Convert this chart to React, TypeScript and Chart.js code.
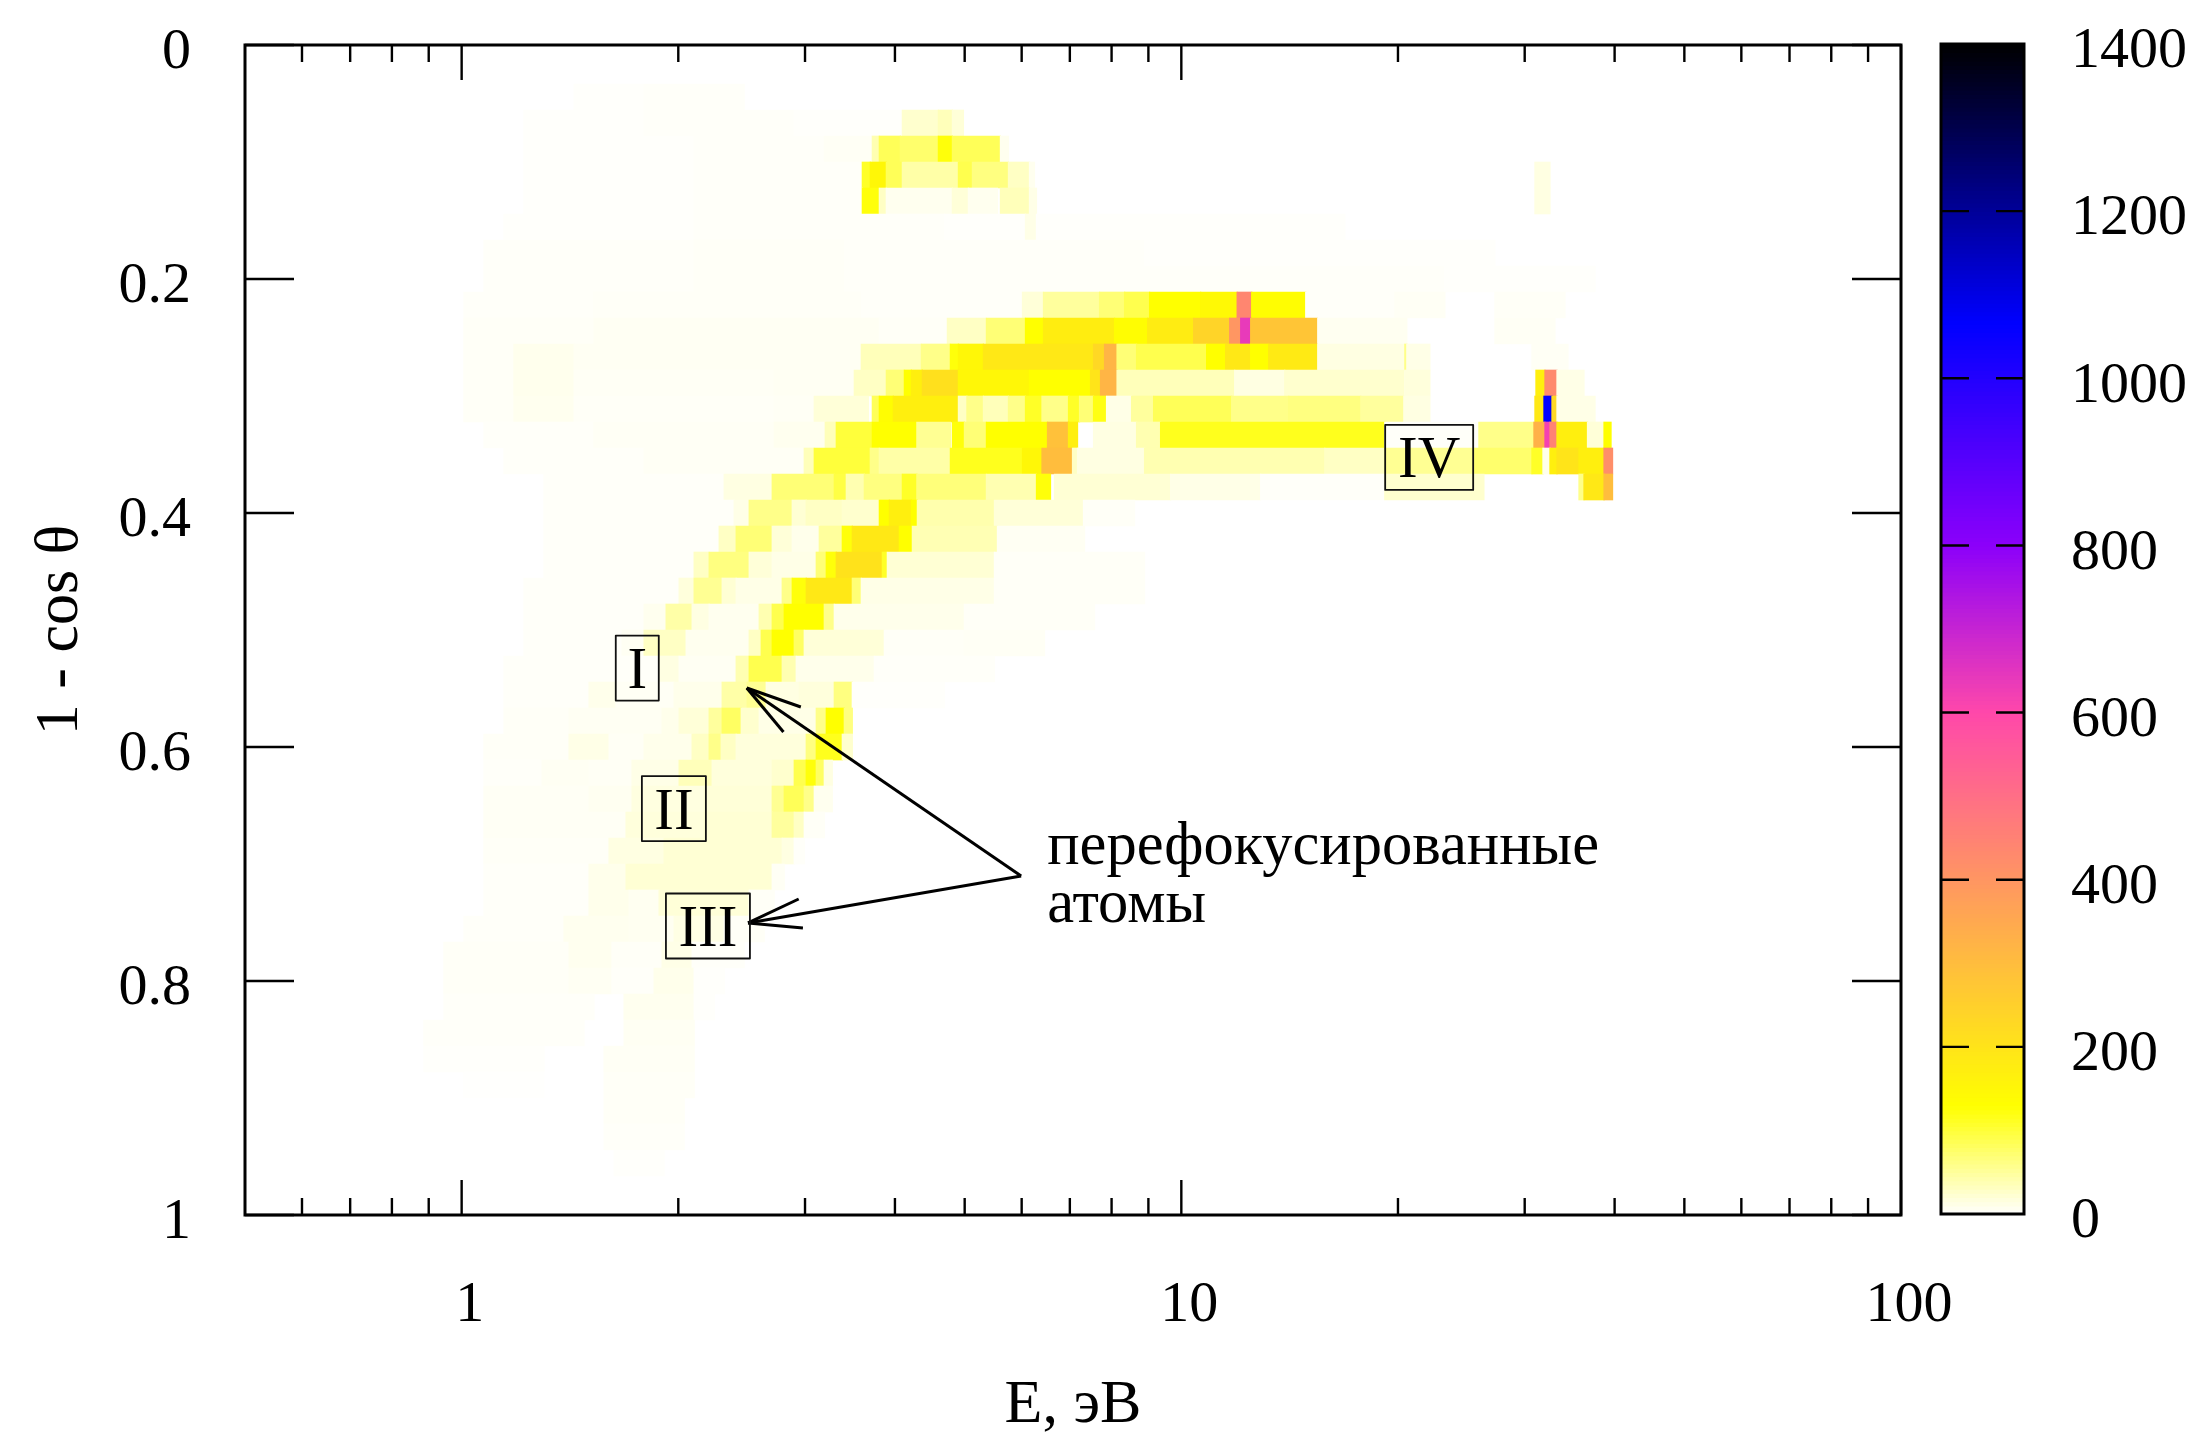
import React, { useEffect, useRef } from "react";
import { Chart, registerables } from "chart.js";
Chart.register(...registerables);

// Energy axis values
const xMajorTicks = [1, 10, 100];
const xMinorTicks = [0.6, 0.7, 0.8, 0.9, 2, 3, 4, 5, 6, 7, 8, 9, 20, 30, 40, 50, 60, 70, 80, 90];
const yTicks = [0, 0.2, 0.4, 0.6, 0.8, 1];
const colorTicks = [0, 200, 400, 600, 800, 1000, 1200, 1400];

// Colour map: [value, r, g, b]
const paletteStops = [
  [0, 255, 255, 255], [130, 255, 255, 0], [600, 255, 72, 170], [800, 140, 0, 250],
  [1066, 0, 0, 255], [1400, 0, 0, 0],
];

// Each row is one 1-cos(theta) bin (k/45); each run is [first energy bin, last energy bin, counts].
const heatRows: number[][][] = [
  [],
  [],
  [[33,40,2],[40,50,3]],
  [[28,40,2],[40,55,3],[55,66,2],[65.8,69.4,25],[69.4,70.8,35],[70.8,71.9,20]],
  [[28,45,2],[45,58,3],[58,62.8,5],[62.8,63.5,40],[63.5,65.6,85],[65.6,69.4,75],[69.4,70.8,125],[70.8,75.6,85],[75.6,76.4,8]],
  [[28,45,2],[45,61.8,3],[61.8,62.6,110],[62.6,64.2,150],[64.2,65.8,85],[65.8,71.4,45],[71.4,72.8,90],[72.8,76.4,65],[76.4,78.5,30],[78.5,79,8],[129,130.5,15]],
  [[28,45,2],[45,61.8,3],[61.8,63.5,125],[63.5,64.2,30],[64.2,70.8,8],[70.8,72.4,20],[72.4,75.3,8],[75.6,78.5,35],[78.5,79.2,12],[129,130.5,15]],
  [[26,45,2],[45,70,3],[70,78.1,2],[78.1,79.2,12],[79.2,110,2]],
  [[24,45,3],[45,60,4],[60,90,3],[90,125,2]],
  [[24,45,3],[45,60,4],[60,90,3],[90,120,3],[120,135,2]],
  [[22,35,3],[35,61.7,4],[61.7,77.8,3],[77.8,79.9,20],[79.9,85.5,50],[85.5,88,70],[88,90.5,90],[90.5,95.6,130],[95.6,99.25,145],[99.25,100.7,440],[100.7,106.1,135],[106.1,115,3],[115,120,5],[125,132,4]],
  [[22,35,4],[35,63.5,6],[63.5,70.3,4],[70.3,74.2,30],[74.2,78.1,70],[78.1,79.9,130],[79.9,87,175],[87,90.3,135],[90.3,94.9,180],[94.9,98.5,240],[98.5,99.6,400],[99.6,100.6,640],[100.6,107.25,280],[107.3,116.2,7],[125,131,5]],
  [[22,27,4],[27,33,9],[33,61.7,6],[61.7,67.7,35],[67.7,70.6,60],[70.6,71.4,125],[71.4,73.9,150],[73.9,84.9,190],[84.9,86,230],[86,87.25,320],[87.25,89.2,70],[89.2,96.2,90],[96.2,98.1,130],[98.1,100.6,190],[100.6,102.4,130],[102.4,107.25,185],[107.3,116,15],[116,116.2,60],[116.2,118.5,12],[128.7,132.3,5]],
  [[22,27,4],[27,33,9],[33,53,5],[53,61,6],[61,64.2,30],[64.2,66,70],[66,66.7,130],[66.7,67.8,170],[67.8,71.4,210],[71.4,78.5,150],[78.5,84.6,130],[84.6,85.6,200],[85.6,87.25,320],[87.25,99,35],[99,104,15],[104,115.9,25],[116,118.5,18],[129.1,130,170],[130,131.2,430],[131.2,133.9,12]],
  [[22,27,4],[27,33,8],[33,53,4],[53,57,5],[57,62.4,20],[62.8,63.5,85],[63.5,64.9,135],[64.9,71.4,170],[71.4,72.25,30],[72.25,73.9,60],[73.9,76.4,35],[76.4,78.1,60],[78.1,79.75,110],[79.75,82.4,60],[82.4,83.5,110],[83.5,84.9,70],[84.9,86.2,120],[86.2,88.7,12],[88.7,90.9,50],[90.9,98.7,85],[98.7,104.4,60],[104.4,111.6,65],[111.6,115.9,50],[115.9,118.5,15],[129,129.9,190],[129.9,130.7,1066],[130.7,131.2,230],[131.2,135,12]],
  [[24,35,3],[35,53,5],[53,58.1,8],[58.1,59.2,35],[59.2,62.8,100],[62.8,67.25,130],[67.25,70.6,55],[70.8,72,125],[72,74.2,70],[74.2,80.3,130],[80.3,82.4,290],[82.4,83.3,170],[84.9,89.2,15],[89.2,91.6,40],[91.6,114,115],[114,123.4,3],[123.4,128.9,60],[128.9,130,330],[130,130.5,620],[130.5,131.2,450],[131.2,134.25,170],[134.25,135.9,20],[135.9,136.6,130]],
  [[26,40,3],[40,56,5],[56,57,35],[57,62.6,100],[62.6,63.5,60],[63.5,70.6,45],[70.6,77.8,115],[77.8,79.75,150],[79.75,82.8,300],[82.8,83.3,30],[83.3,90,15],[90,108,40],[108,114,30],[114,123,55],[123,128.7,75],[128.7,129.8,110],[129.8,130.5,10],[130.5,131.2,170],[131.2,133.4,200],[133.4,135.9,170],[135.9,136.75,420]],
  [[30,48,3],[48,52.8,15],[52.8,59,70],[59,60.2,95],[60.2,62,40],[62,65.8,65],[65.8,67.25,110],[67.25,74.2,68],[74.2,79.2,40],[79.2,80.6,125],[81,92.6,22],[92.6,101.6,12],[101.6,114,3],[114,123.9,25],[133.4,133.9,60],[133.9,135.9,190],[135.9,136.75,300]],
  [[30,49,3],[49,50.5,12],[50.5,54.8,60],[54.8,56.2,22],[56.2,59.8,30],[59.8,63.5,25],[63.5,64.5,130],[64.5,66.7,170],[66.7,67.3,130],[67.3,75,42],[75,83.9,20],[83.9,89,4]],
  [[30,47.5,3],[47.5,49.2,30],[49.2,52.8,70],[52.8,54.8,20],[54.8,57.5,10],[57.5,59.8,50],[59.8,60.8,125],[60.8,65.5,188],[65.5,66.8,130],[66.8,75.3,38],[75.3,84,6]],
  [[30,45,3],[45,46.5,30],[46.5,50.5,65],[50.5,52.8,20],[52.8,57.2,12],[57.2,58.2,70],[58.2,59.2,125],[59.2,63.8,205],[63.8,64.3,110],[64.3,75,22],[75,90,4]],
  [[28,43.5,3],[43.5,45,18],[45,47.8,55],[47.8,49.2,22],[49.2,53.8,12],[53.8,54.8,60],[54.8,56.2,125],[56.2,60.8,190],[60.8,61.7,70],[61.7,75,12],[75,90,4]],
  [[28,40,3],[40,42.2,8],[42.2,44.8,45],[44.8,46.5,15],[46.5,51.5,8],[51.5,52.8,40],[52.8,54,90],[54,58,130],[58,59,60],[59,72,10],[72,85,4]],
  [[28,37.8,3],[37.8,40,6],[40,44.2,30],[44.2,50.5,8],[50.5,51.7,30],[51.7,52.8,90],[52.8,55,130],[55,56,80],[56,64,20],[64,72,4],[72,80,5]],
  [[26,41.5,3],[41.5,43.5,15],[43.5,49.2,6],[49.2,50.5,40],[50.5,53.8,90],[53.8,55.2,40],[55.2,63,10],[63,75,3]],
  [[26,34.5,3],[34.5,37.2,10],[37.2,43,5],[43,47.8,10],[47.8,50.3,45],[50.3,52.2,55],[52.2,55.5,15],[55.5,59,18],[59,60.8,65],[60.8,70,2]],
  [[26,32.5,4],[32.5,41.8,6],[41.8,43.5,10],[43.5,46.5,20],[46.5,47.8,50],[47.8,49.7,80],[49.7,51.5,25],[51.5,57.2,12],[57.2,58.2,60],[58.2,60,130],[60,60.8,65]],
  [[24,32.5,4],[32.5,36.5,12],[36.5,40,5],[40,44.8,10],[44.8,46.5,30],[46.5,47.7,60],[47.7,49.2,30],[49.2,56.2,18],[56.2,57.2,65],[57.2,59.8,115],[59.8,60.8,25]],
  [[24,29.8,3],[29.8,34.5,6],[34.5,38.8,5],[38.8,43.5,12],[43.5,46.8,35],[46.8,52.8,18],[52.8,55,25],[55,56.2,90],[56.2,57.2,125],[57.2,58,80],[58,58.8,15]],
  [[24,34.5,5],[34.5,38.8,7],[38.8,46,16],[46,52.8,20],[52.8,54,55],[54,56,85],[56,57,60],[57,58.8,8]],
  [[24,38.2,5],[38.2,46,18],[46,52.8,22],[52.8,55,50],[55,56,30],[56,58,4]],
  [[24,36.5,4],[36.5,42,15],[42,53.8,22],[53.8,55,15],[55,56,3]],
  [[24,34.5,3],[34.5,38.2,10],[38.2,52.8,22],[52.8,54,5]],
  [[24,34.5,3],[34.5,38.5,10],[38.5,41.5,7],[41.5,50.5,20],[50.5,53,4]],
  [[22,32,3],[32,38.5,8],[38.5,43,7],[43,48,14],[48,52,4]],
  [[20,32.5,4],[32.5,36.8,8],[36.8,41.8,4],[41.8,44.8,12],[44.8,50,3]],
  [[20,32.5,4],[32.5,36.8,6],[36.8,41,3],[41,45,10],[45,48,2]],
  [[20,35,3],[38,45,8],[45,47,2]],
  [[18,34,3],[38,45,6]],
  [[18,30,2],[36,45,5]],
  [[22,30,1],[36,45,4]],
  [[36,44,4]],
  [[36,44,3]],
  [[37,42,2]],
  [],
];

// Annotations, in data units (energy in eV, 1-cos theta)
const labelNames = ["I", "II", "III", "IV"];
const labelEnergies = [1.754, 1.972, 2.199, 22.1];
const labelAngles = [0.5325, 0.6526, 0.753, 0.3525];
const labelWidths = [43, 64, 84, 88];
const arrowApex = [5.99, 0.7103];
const arrowTips = [[2.49, 0.5496], [2.5, 0.7504]];
const arrowHeads = [[[2.96, 0.5658], [2.8, 0.5872]], [[2.94, 0.7299], [2.98, 0.7547]]];
const noteLines = [["перефокусированные", 6.51, 0.6846], ["атомы", 6.51, 0.7346]] as const;

const FONT = '"Liberation Serif", serif';

function colorOf(v: number) {
  for (let i = 1; i < paletteStops.length; i++) {
    const a = paletteStops[i - 1], b = paletteStops[i];
    if (v <= b[0]) {
      const t = (v - a[0]) / (b[0] - a[0]);
      const m = (j: number) => Math.round(a[j] + (b[j] - a[j]) * t);
      return `rgb(${m(1)},${m(2)},${m(3)})`;
    }
  }
  return "rgb(0,0,0)";
}
// energy bin number -> eV (log grid, 71.9 bins per decade, starting at 0.5 eV)
const binEnergy = (c: number) => 0.5 * Math.pow(10, c / 71.9 - 0.00217);

const heatCells = heatRows.flatMap((row, k) =>
  row.map(([a, b, v]) => ({ x: [binEnergy(a), binEnergy(b + 0.06)], y: k / 45, v }))
);

const noEdgePadding = (s: any) => { s.paddingTop = 0; s.paddingBottom = 0; s.paddingLeft = 0; s.paddingRight = 0; };

const framePlugin = {
  id: "frame",
  afterDatasetsDraw(chart: any) {
    const { ctx, chartArea: a, scales } = chart;
    const sx = scales.x, sy = scales.y;
    ctx.save();
    ctx.strokeStyle = "#000";
    ctx.lineWidth = 2.4;
    ctx.lineCap = "butt";
    const line = (x0: number, y0: number, x1: number, y1: number) => {
      ctx.beginPath(); ctx.moveTo(x0, y0); ctx.lineTo(x1, y1); ctx.stroke();
    };
    xMinorTicks.forEach((t) => {
      const p = sx.getPixelForValue(t);
      line(p, a.top, p, a.top + 17); line(p, a.bottom, p, a.bottom - 17);
    });
    xMajorTicks.forEach((t) => {
      const p = sx.getPixelForValue(t);
      line(p, a.top, p, a.top + 35); line(p, a.bottom, p, a.bottom - 35);
    });
    yTicks.forEach((t) => {
      const p = sy.getPixelForValue(t);
      line(a.left, p, a.left + 49, p); line(a.right, p, a.right - 49, p);
    });
    ctx.lineWidth = 3;
    ctx.strokeRect(a.left, a.top, a.right - a.left, a.bottom - a.top);

    // arrows
    ctx.lineWidth = 3;
    ctx.lineJoin = "round";
    const P = (q: number[]) => [sx.getPixelForValue(q[0]), sy.getPixelForValue(q[1])];
    arrowTips.forEach((tip, i) => {
      const t = P(tip), ap = P(arrowApex);
      line(ap[0], ap[1], t[0], t[1]);
      arrowHeads[i].forEach((h) => { const q = P(h); line(t[0], t[1], q[0], q[1]); });
    });

    // boxed labels
    ctx.font = `59px ${FONT}`;
    ctx.fillStyle = "#000";
    ctx.textAlign = "center";
    ctx.textBaseline = "alphabetic";
    labelNames.forEach((name, i) => {
      const cx = sx.getPixelForValue(labelEnergies[i]);
      const cy = sy.getPixelForValue(labelAngles[i]);
      ctx.lineWidth = 1.8;
      ctx.strokeStyle = "#111";
      ctx.strokeRect(cx - labelWidths[i] / 2, cy - 32.5, labelWidths[i], 65);
      ctx.fillText(name, cx, cy + 20);
    });
    ctx.textAlign = "left";
    ctx.font = `60.5px ${FONT}`;
    noteLines.forEach(([text, e, q]) => {
      ctx.fillText(text, sx.getPixelForValue(e), sy.getPixelForValue(q) + 18);
    });
    ctx.restore();
  },
};

const colorbarPlugin = {
  id: "cbframe",
  afterDatasetsDraw(chart: any) {
    const { ctx, chartArea: a, scales } = chart;
    ctx.save();
    ctx.strokeStyle = "#000";
    ctx.lineWidth = 2.4;
    colorTicks.slice(1, -1).forEach((t) => {
      const p = scales.y.getPixelForValue(t);
      ctx.beginPath();
      ctx.moveTo(a.left, p); ctx.lineTo(a.left + 28, p);
      ctx.moveTo(a.right, p); ctx.lineTo(a.right - 28, p);
      ctx.stroke();
    });
    ctx.lineWidth = 3;
    ctx.strokeRect(a.left, a.top, a.right - a.left, a.bottom - a.top);
    ctx.restore();
  },
};

export default function App() {
  const mainRef = useRef<HTMLCanvasElement>(null);
  const barRef = useRef<HTMLCanvasElement>(null);

  useEffect(() => {
    const font = { family: FONT, size: 58 };
    const titleFont = { family: FONT, size: 62, lineHeight: 1 };
    const main = new Chart(mainRef.current!, {
      type: "bar",
      data: {
        datasets: [{
          data: heatCells as any,
          backgroundColor: heatCells.map((c) => colorOf(c.v)),
          borderWidth: 0,
          barThickness: 26,
          grouped: false,
        } as any],
      },
      options: {
        indexAxis: "y",
        animation: false,
        responsive: false,
        devicePixelRatio: 1,
        layout: { padding: { left: 0, top: 45, right: 291, bottom: 0 } },
        plugins: { legend: { display: false }, tooltip: { enabled: false } },
        scales: {
          x: {
            type: "logarithmic", min: 0.5, max: 100,
            grid: { display: false }, border: { display: false },
            afterBuildTicks: (s: any) => { s.ticks = xMajorTicks.map((value) => ({ value, major: true })); },
            afterFit: (s: any) => { s.height = 218; noEdgePadding(s); },
            ticks: { font, color: "#000", padding: 48, labelOffset: 8, maxRotation: 0, autoSkip: false, callback: (v: any) => String(v) },
            title: { display: true, text: "E, эВ", color: "#000", font: titleFont, padding: { top: 0, bottom: -4 } },
          },
          y: {
            type: "linear", min: 0, max: 1, reverse: true, offset: false,
            grid: { display: false }, border: { display: false },
            afterBuildTicks: (s: any) => { s.ticks = yTicks.map((value) => ({ value })); },
            afterFit: (s: any) => { s.width = 245; noEdgePadding(s); },
            ticks: { font, color: "#000", padding: 46, labelOffset: 8, autoSkip: false, callback: (v: any) => String(v) },
            title: { display: true, text: "1 - cos θ", color: "#000", font: titleFont, padding: { top: 30, bottom: 0 } },
          },
        },
      },
      plugins: [framePlugin],
    } as any);

    const levels: number[] = [];
    for (let v = 2.5; v < 1400; v += 5) levels.push(v);
    const bar = new Chart(barRef.current!, {
      type: "bar",
      data: {
        datasets: [{
          data: levels.map((v) => ({ x: [0, 1], y: v })) as any,
          backgroundColor: levels.map(colorOf),
          borderWidth: 0,
          barThickness: 5,
          grouped: false,
        } as any],
      },
      options: {
        indexAxis: "y",
        animation: false,
        responsive: false,
        devicePixelRatio: 1,
        layout: { padding: { left: 11, top: 44, right: 0, bottom: 219 } },
        plugins: { legend: { display: false }, tooltip: { enabled: false } },
        scales: {
          x: { type: "linear", min: 0, max: 1, display: false },
          y: {
            type: "linear", position: "right", min: 0, max: 1400, offset: false,
            grid: { display: false }, border: { display: false },
            afterBuildTicks: (s: any) => { s.ticks = colorTicks.map((value) => ({ value })); },
            afterFit: (s: any) => { s.width = 168; noEdgePadding(s); },
            ticks: { font, color: "#000", padding: 39, labelOffset: 8, autoSkip: false, callback: (v: any) => String(v) },
          },
        },
      },
      plugins: [colorbarPlugin],
    } as any);

    return () => { main.destroy(); bar.destroy(); };
  }, []);

  return (
    <div style={{ position: "absolute", left: 0, top: 0, width: 2192, height: 1433, background: "#fff", overflow: "hidden" }}>
      <canvas ref={mainRef} width={2192} height={1433} style={{ position: "absolute", left: 0, top: 0, filter: "blur(0.7px)" }} />
      <canvas ref={barRef} width={262} height={1433} style={{ position: "absolute", left: 1930, top: 0, filter: "blur(0.7px)" }} />
    </div>
  );
}
